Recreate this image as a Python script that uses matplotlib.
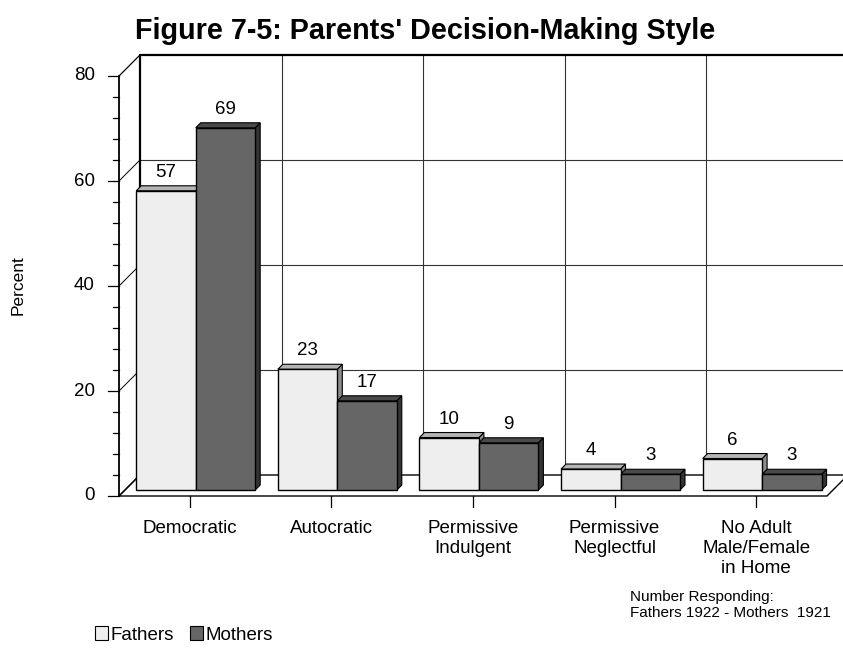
import matplotlib.pyplot as plt
from matplotlib.patches import Polygon

plt.rcParams['font.family'] = ['Liberation Sans', 'DejaVu Sans']

# data
categorias = ['Democratic', 'Autocratic', 'Permissive\nIndulgent',
              'Permissive\nNeglectful', 'No Adult\nMale/Female\nin Home']
pais = [57, 23, 10, 4, 6]
maes = [69, 17, 9, 3, 3]
series = ['Fathers', 'Mothers']
yticks = [0, 20, 40, 60, 80]

cor_frente = ['#eeeeee', '#666666']
cor_topo = ['#b4b4b4', '#4a4a4a']
cor_lado = ['#8c8c8c', '#333333']

# profundidade do efeito 3D (em unidades dos dados)
DX, DY = 0.148, 4.0      # parede do fundo
SX, SY = 0.042, 1.14     # recuo das barras
BX, BY = 0.035, 0.95     # espessura das barras
LARG = 0.42

fig = plt.figure(figsize=(8.43, 6.49), dpi=100)
ax = fig.add_axes([119/843, 1 - 496/649, 708/843, 420/649])
ax.set_xlim(0, 5)
ax.set_ylim(0, 80)
ax.axis('off')
n = len(categorias)

def poly(pts, fc, lw=0.8, z=1):
    ax.add_patch(Polygon(pts, closed=True, facecolor=fc, edgecolor='black',
                         linewidth=lw, zorder=z, clip_on=False))

# parede do fundo, chao e grade
poly([(DX, DY), (n + DX, DY), (n + DX, 80 + DY), (DX, 80 + DY)], 'white', 0)
poly([(0, 0), (n, 0), (n + DX, DY), (DX, DY)], 'white', 1.0)
for v in yticks[1:-1]:
    ax.plot([DX, n + DX], [v + DY, v + DY], color='#333333', lw=0.8, clip_on=False)
for i in range(1, n):
    ax.plot([i + DX, i + DX], [DY, 80 + DY], color='#333333', lw=0.8, clip_on=False)
for v in yticks:
    ax.plot([0, DX], [v, v + DY], color='black', lw=0.9 if v in (0, 80) else 0.7, clip_on=False)
ax.plot([DX, DX, n + DX], [DY, 80 + DY, 80 + DY], color='black', lw=1.6, clip_on=False)
ax.plot([0, 0], [0, 80], color='black', lw=1.3, clip_on=False)

# marcas do eixo y
for v in range(0, 81, 4):
    comp = 0.075 if v % 20 == 0 else 0.04
    ax.plot([-comp, 0], [v, v], color='black', lw=0.9, clip_on=False)
for v in yticks:
    ax.text(-0.17, v, str(v), ha='right', va='center', fontsize=13.5)

# marcas e rotulos das categorias
for i, c in enumerate(categorias):
    ax.plot([i + 0.5, i + 0.5], [0, -2.0], color='black', lw=0.9, clip_on=False)
    ax.text(i + 0.5, -4.6, c, ha='center', va='top', fontsize=13.5, linespacing=1.22)

# barras
for i in range(n):
    for k, vals in enumerate([pais, maes]):
        v = vals[i]
        x0 = i + 0.5 + SX - LARG + k * LARG
        x1 = x0 + LARG
        y0, y1 = SY, SY + v
        poly([(x1, y0), (x1 + BX, y0 + BY), (x1 + BX, y1 + BY), (x1, y1)], cor_lado[k], 0.8, 3)
        poly([(x0, y1), (x1, y1), (x1 + BX, y1 + BY), (x0 + BX, y1 + BY)], cor_topo[k], 0.8, 3)
        poly([(x0, y0), (x1, y0), (x1, y1), (x0, y1)], cor_frente[k], 1.0, 4)
        ax.annotate(str(v), (x0 + LARG / 2, y1), xytext=(0, 10), textcoords='offset points',
                    ha='center', va='baseline', fontsize=13.5, zorder=5)

fig.text(425/843, 1 - 31/649, "Figure 7-5: Parents' Decision-Making Style",
         ha='center', va='center', fontsize=20.7, fontweight='bold')
fig.text(18/843, 1 - 285/649, 'Percent', rotation=90, ha='center', va='center', fontsize=12.5)

handles = [Polygon([(0, 0)], closed=True, facecolor=cor_frente[k], edgecolor='black', lw=0.8)
           for k in range(2)]
fig.legend(handles, series, loc='center left', bbox_to_anchor=(95/843, 1 - 635/649),
           ncol=2, frameon=False, fontsize=13.5, handlelength=0.7, handleheight=0.7,
           handletextpad=0.1, columnspacing=0.9, borderpad=0, borderaxespad=0)

fig.text(630/843, 1 - 590/649, 'Number Responding:\nFathers 1922 - Mothers  1921',
         ha='left', va='top', fontsize=11, linespacing=1.2)

fig.savefig('out.png', dpi=100)
